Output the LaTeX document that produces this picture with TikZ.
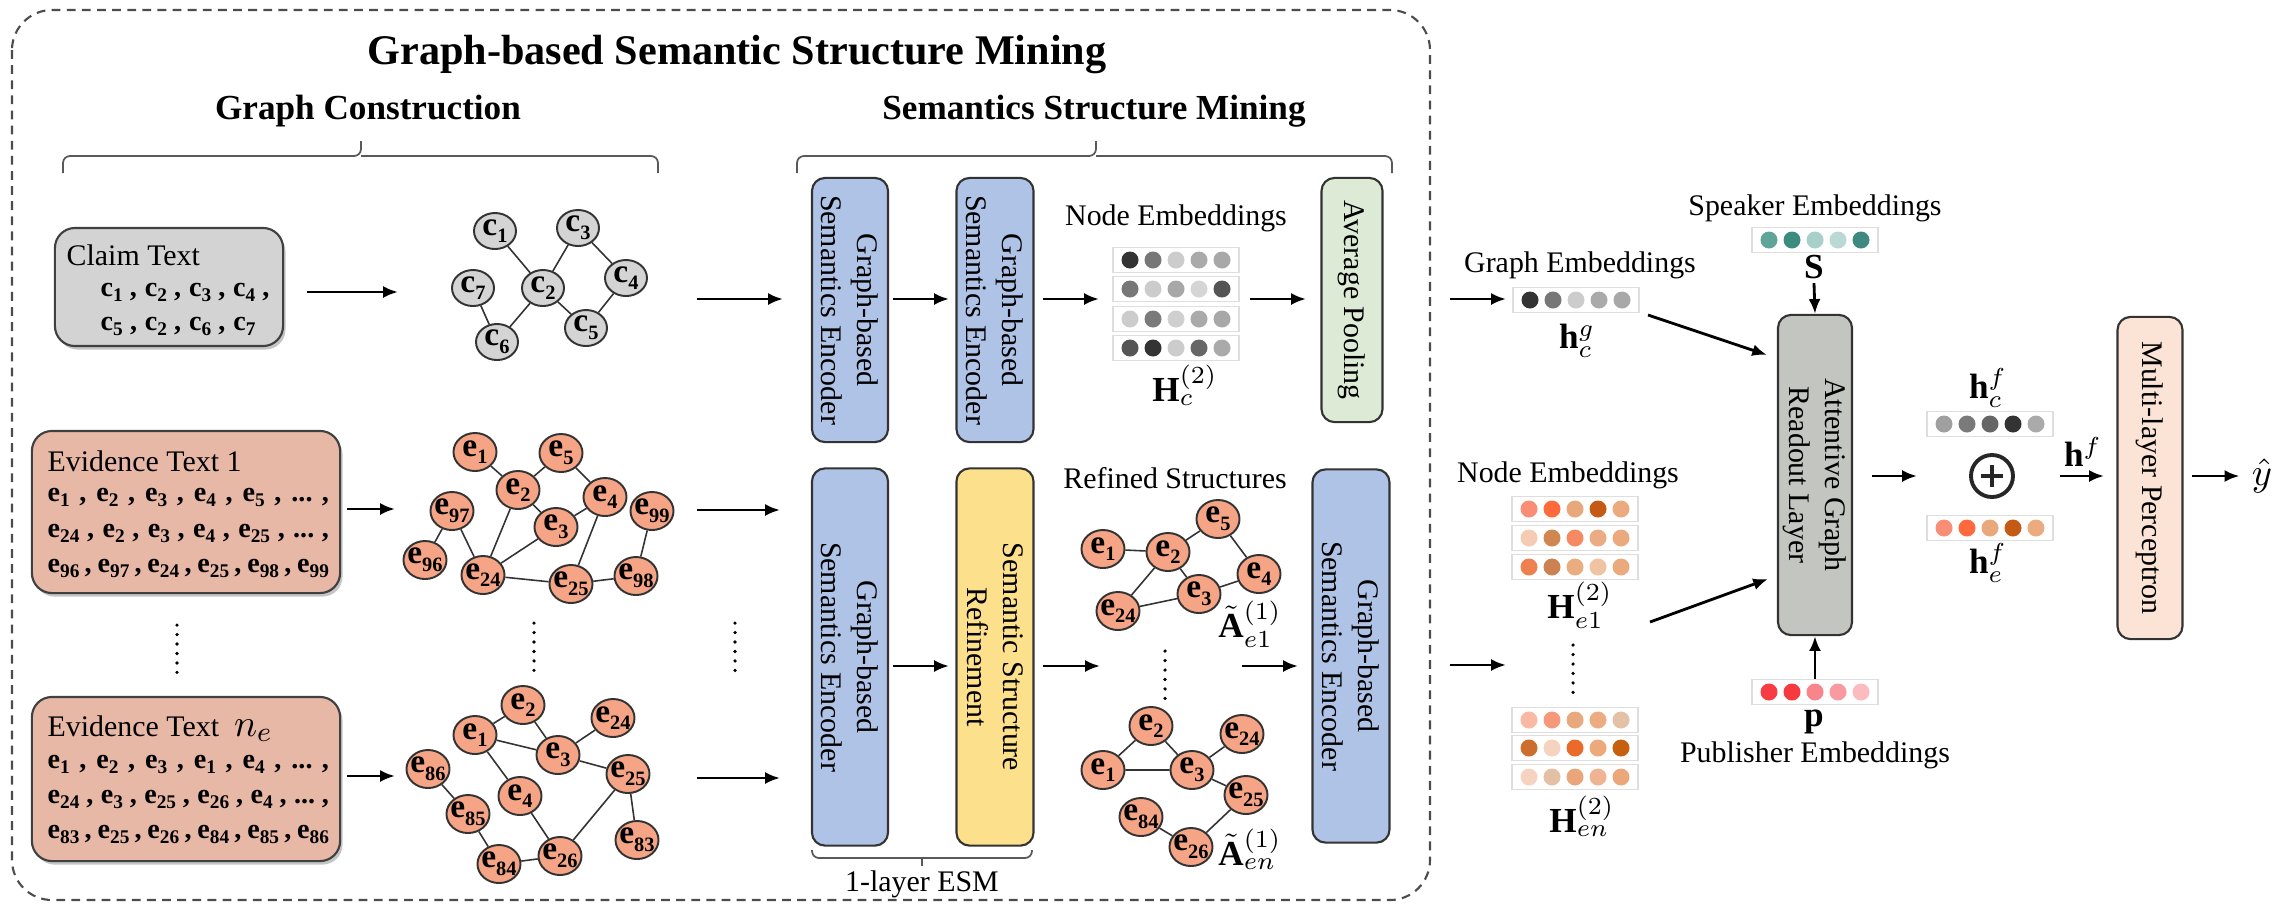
\documentclass[tikz,border=0pt]{standalone}
\usepackage{fontspec}
\setmainfont{Liberation Serif}
\usepackage{amsmath}
\usetikzlibrary{arrows.meta,shapes.geometric,shadows,calc}

\definecolor{cfill}{HTML}{D4D4D4}
\definecolor{cboxf}{HTML}{D3D3D3}
\definecolor{efill}{HTML}{F5A585}
\definecolor{eboxf}{HTML}{E8B8A7}
\definecolor{encb}{HTML}{AFC3E7}
\definecolor{refy}{HTML}{FDE08C}
\definecolor{avgg}{HTML}{DDEBD6}
\definecolor{readg}{HTML}{C3C5C0}
\definecolor{mlpf}{HTML}{FBE3D5}

\newcommand{\sbs}[1]{\raisebox{-0.5ex}{\fontsize{5.8}{5.8}\selectfont\bfseries #1}}
\newcommand{\gl}[2]{#1\sbs{#2}}
\newcommand{\bl}[2]{#1\raisebox{-0.45ex}{\fontsize{5.5}{5.5}\selectfont\bfseries #2}}
\newcommand{\cs}{\hskip 1.2pt plus 1fil,\hskip 1.4pt plus 1fil}

\newcommand{\embrow}[3]{%
  \node[vbox] (#1) at (#2) {};
  \foreach \hx [count=\i] in {#3}{%
    \edef\tmpdef{\noexpand\definecolor{tmpc}{HTML}{\hx}}\tmpdef
    \fill[tmpc] ($(#1.center)+({(\i-3)*23},0)$) circle[radius=0.085cm];
  }%
}

\tikzset{
  every node/.style={font=\fontsize{8.5}{10.2}\selectfont},
  arr/.style={draw=black, line width=0.8pt, -{Latex[length=4.2pt,width=3.4pt]}},
  gedge/.style={draw=black!80, line width=0.45pt},
  cn/.style={ellipse, draw=black!80, line width=0.55pt, fill=cfill, minimum width=0.42cm, minimum height=0.36cm, inner sep=-1.8pt, font=\fontsize{9.5}{10}\selectfont\bfseries},
  en/.style={cn, fill=efill, minimum width=0.43cm, minimum height=0.38cm},
  txtbox/.style={draw=black!75, line width=0.6pt, rounded corners=0.2cm, drop shadow={shadow xshift=0.7pt, shadow yshift=-1pt, fill=black!45}},
  vbar/.style={draw=black!80, line width=0.6pt, rounded corners=0.13cm, inner sep=0pt},
  vbox/.style={draw=black!13, line width=0.5pt, fill=white, minimum width=1.26cm, minimum height=0.25cm, inner sep=0pt},
  brace/.style={draw=black!65, line width=0.5pt, rounded corners=2pt},
  dots/.style={draw=black, line width=1pt, line cap=round, dash pattern=on 0pt off 2.7pt},
  outer/.style={draw=black!70, line width=0.6pt, dash pattern=on 2.5pt off 1.8pt, rounded corners=0.4cm},
  boxline/.style={anchor=base west, inner sep=0pt, font=\fontsize{8}{9}\selectfont\bfseries},
  boxhead/.style={anchor=base west, inner sep=0pt},
  rtext/.style={rotate=-90, align=center},
  mlab/.style={font=\fontsize{10}{11}\selectfont, inner sep=1pt},
}

\begin{document}
\begin{tikzpicture}[x=0.01cm,y=-0.01cm]
\useasboundingbox (0,0) rectangle (2274,908);
\fill[white] (0,0) rectangle (2274,908);
\draw[outer] (12,10) rectangle (1430,900);

% titles
\node[font=\fontsize{12}{14}\selectfont\bfseries] (title) at (737,55) {Graph-based Semantic Structure Mining};
\node[font=\fontsize{10}{12}\selectfont\bfseries] (gct) at (368,111) {Graph Construction};
\node[font=\fontsize{10}{12}\selectfont\bfseries] (ssmt) at (1094,111) {Semantics Structure Mining};
\draw[brace] (63,173) -- (63,156) -- (361,156) -- (361,141);
\draw[brace] (361,156) -- (658,156) -- (658,173);
\draw[brace] (797,173) -- (797,156) -- (1096,156) -- (1096,141);
\draw[brace] (1096,156) -- (1392,156) -- (1392,173);

% text boxes
\node[txtbox, fill=cboxf, minimum width=2.28cm, minimum height=1.18cm] (claim) at (169,287) {};
\node[boxhead] (ct0) at (66,265) {Claim Text};
\node[boxline] (ct1) at (100,296) {\makebox[48pt][s]{\bl{c}{1}\cs\bl{c}{2}\cs\bl{c}{3}\cs\bl{c}{4}\hskip 1.2pt plus 1fil,}};
\node[boxline] (ct2) at (100,330) {\makebox[44pt][s]{\bl{c}{5}\cs\bl{c}{2}\cs\bl{c}{6}\cs\bl{c}{7}}};

\node[txtbox, fill=eboxf, minimum width=3.08cm, minimum height=1.62cm] (ev1) at (186,512) {};
\node[boxhead] (e1t0) at (47,471) {Evidence Text 1};
\node[boxline] (e1t1) at (47,501) {\makebox[80pt][s]{\bl{e}{1}\cs\bl{e}{2}\cs\bl{e}{3}\cs\bl{e}{4}\cs\bl{e}{5}\cs...\hskip 1.2pt plus 1fil,}};
\node[boxline] (e1t2) at (47,537) {\makebox[80pt][s]{\bl{e}{24}\cs\bl{e}{2}\cs\bl{e}{3}\cs\bl{e}{4}\cs\bl{e}{25}\cs...\hskip 1.2pt plus 1fil,}};
\node[boxline] (e1t3) at (47,572) {\makebox[80pt][s]{\bl{e}{96}\cs\bl{e}{97}\cs\bl{e}{24}\cs\bl{e}{25}\cs\bl{e}{98}\cs\bl{e}{99}}};

\node[txtbox, fill=eboxf, minimum width=3.08cm, minimum height=1.64cm] (evn) at (186,779) {};
\node[boxhead] (ent0) at (47,736) {Evidence Text\ \ {\fontsize{11}{12}\selectfont$n_e$}};
\node[boxline] (ent1) at (47,768) {\makebox[80pt][s]{\bl{e}{1}\cs\bl{e}{2}\cs\bl{e}{3}\cs\bl{e}{1}\cs\bl{e}{4}\cs...\hskip 1.2pt plus 1fil,}};
\node[boxline] (ent2) at (47,803) {\makebox[80pt][s]{\bl{e}{24}\cs\bl{e}{3}\cs\bl{e}{25}\cs\bl{e}{26}\cs\bl{e}{4}\cs...\hskip 1.2pt plus 1fil,}};
\node[boxline] (ent3) at (47,838) {\makebox[80pt][s]{\bl{e}{83}\cs\bl{e}{25}\cs\bl{e}{26}\cs\bl{e}{84}\cs\bl{e}{85}\cs\bl{e}{86}}};

% claim graph
\node[cn] (c1) at (495,231) {\gl{c}{1}};
\node[cn] (c3) at (578,228) {\gl{c}{3}};
\node[cn] (c7) at (473,288) {\gl{c}{7}};
\node[cn] (c2) at (543,288) {\gl{c}{2}};
\node[cn] (c4) at (626,278) {\gl{c}{4}};
\node[cn] (c5) at (586,328) {\gl{c}{5}};
\node[cn] (c6) at (497,342) {\gl{c}{6}};
\draw[gedge] (c1)--(c2) (c2)--(c3) (c3)--(c4) (c4)--(c5) (c5)--(c2) (c2)--(c6) (c6)--(c7);

% evidence 1 graph
\node[en] (a1) at (475,452) {\gl{e}{1}};
\node[en] (a5) at (561,453) {\gl{e}{5}};
\node[en] (a2) at (518,490) {\gl{e}{2}};
\node[en] (a97) at (452,511) {\gl{e}{97}};
\node[en] (a4) at (605,497) {\gl{e}{4}};
\node[en] (a99) at (652,511) {\gl{e}{99}};
\node[en] (a3) at (556,527) {\gl{e}{3}};
\node[en] (a96) at (425,560) {\gl{e}{96}};
\node[en] (a24) at (483,575) {\gl{e}{24}};
\node[en] (a25) at (571,584) {\gl{e}{25}};
\node[en] (a98) at (636,576) {\gl{e}{98}};
\draw[gedge] (a1)--(a2) (a2)--(a5) (a5)--(a4) (a2)--(a3) (a3)--(a4) (a97)--(a96) (a97)--(a24) (a2)--(a24) (a24)--(a3) (a24)--(a25) (a4)--(a25) (a25)--(a98) (a99)--(a98);

% evidence n graph
\node[en] (b2) at (523,705) {\gl{e}{2}};
\node[en] (b24) at (613,718) {\gl{e}{24}};
\node[en] (b1) at (475,735) {\gl{e}{1}};
\node[en] (b3) at (558,755) {\gl{e}{3}};
\node[en] (b86) at (428,769) {\gl{e}{86}};
\node[en] (b25) at (628,774) {\gl{e}{25}};
\node[en] (b4) at (520,796) {\gl{e}{4}};
\node[en] (b85) at (468,814) {\gl{e}{85}};
\node[en] (b83) at (637,840) {\gl{e}{83}};
\node[en] (b84) at (499,864) {\gl{e}{84}};
\node[en] (b26) at (560,856) {\gl{e}{26}};
\draw[gedge] (b1)--(b2) (b2)--(b3) (b1)--(b3) (b3)--(b24) (b3)--(b25) (b1)--(b4) (b4)--(b26) (b26)--(b25) (b25)--(b83) (b86)--(b85) (b85)--(b84) (b84)--(b26);

% dots left
\draw[dots] (177,625) -- (177,676);
\draw[dots] (534,623) -- (534,672);
\draw[dots] (735,623) -- (735,672);

% encoders top
\node[vbar, fill=encb, minimum width=0.76cm, minimum height=2.64cm] (enc1) at (850,310) {};
\node[rtext] (enc1t) at (enc1.center) {Graph-based\\Semantics Encoder};
\node[vbar, fill=encb, minimum width=0.77cm, minimum height=2.64cm] (enc2) at (995,310) {};
\node[rtext] (enc2t) at (enc2.center) {Graph-based\\Semantics Encoder};
\node[vbar, fill=avgg, minimum width=0.61cm, minimum height=2.44cm] (avg) at (1352,300) {};
\node[rtext] (avgt) at (avg.center) {Average Pooling};

\node (nelab) at (1176,218) {Node Embeddings};
\embrow{hc1}{1176,260}{333333,777777,CCCCCC,AAAAAA,A8A8A8}
\embrow{hc2}{1176,289}{777777,CCCCCC,A8A8A8,D5D5D5,555555}
\embrow{hc3}{1176,319}{CCCCCC,7A7A7A,CFCFCF,AAAAAA,A8A8A8}
\embrow{hc4}{1176,348}{555555,333333,CCCCCC,666666,AAAAAA}
\node[mlab] (hclab) at (1185,385) {$\mathbf{H}_c^{(2)}$};

% bottom row
\node[vbar, fill=encb, minimum width=0.76cm, minimum height=3.77cm] (benc) at (850,657) {};
\node[rtext] (benct) at (benc.center) {Graph-based\\Semantics Encoder};
\node[vbar, fill=refy, minimum width=0.77cm, minimum height=3.77cm] (ref) at (995,657) {};
\node[rtext] (reft) at (ref.center) {Semantic Structure\\Refinement};
\node[vbar, fill=encb, minimum width=0.77cm, minimum height=3.73cm] (renc) at (1351,656) {};
\node[rtext] (renct) at (renc.center) {Graph-based\\Semantics Encoder};

\node (rslab) at (1175,478) {Refined Structures};
\node[en] (r5) at (1218,519) {\gl{e}{5}};
\node[en] (r1) at (1103,549) {\gl{e}{1}};
\node[en] (r2) at (1168,552) {\gl{e}{2}};
\node[en] (r4) at (1259,574) {\gl{e}{4}};
\node[en] (r3) at (1199,594) {\gl{e}{3}};
\node[en] (r24) at (1118,611) {\gl{e}{24}};
\draw[gedge] (r1)--(r2) (r2)--(r5) (r5)--(r4) (r2)--(r3) (r2)--(r24) (r24)--(r3) (r3)--(r4);
\node[mlab] (ae1) at (1250,624) {$\tilde{\mathbf{A}}_{e1}^{(1)}$};
\draw[dots] (1165,651) -- (1165,700);
\node[en] (q2) at (1151,726) {\gl{e}{2}};
\node[en] (q24) at (1242,734) {\gl{e}{24}};
\node[en] (q1) at (1103,770) {\gl{e}{1}};
\node[en] (q3) at (1192,770) {\gl{e}{3}};
\node[en] (q25) at (1246,795) {\gl{e}{25}};
\node[en] (q84) at (1141,817) {\gl{e}{84}};
\node[en] (q26) at (1191,847) {\gl{e}{26}};
\draw[gedge] (q1)--(q2) (q2)--(q3) (q1)--(q3) (q3)--(q24) (q3)--(q25) (q25)--(q26) (q84)--(q26);
\node[mlab] (aen) at (1250,849) {$\tilde{\mathbf{A}}_{en}^{(1)}$};

\draw[brace] (812,850) -- (812,858) -- (1032,858) -- (1032,850);
\draw[brace] (922,858) -- (922,866);
\node (esm) at (922,884) {1-layer ESM};

% arrows left part
\coordinate (l1a) at (307,292); \coordinate (l1b) at (398,292);
\coordinate (l2a) at (347,509); \coordinate (l2b) at (395,509);
\coordinate (l3a) at (347,776); \coordinate (l3b) at (395,776);
\draw[arr] (l1a) -- (l1b);
\draw[arr] (l2a) -- (l2b);
\draw[arr] (l3a) -- (l3b);
\coordinate (g1a) at (697,299); \coordinate (g1b) at (783,299);
\coordinate (g2a) at (697,510); \coordinate (g2b) at (780,510);
\coordinate (g3a) at (697,778); \coordinate (g3b) at (780,778);
\draw[arr] (g1a) -- (g1b);
\draw[arr] (g2a) -- (g2b);
\draw[arr] (g3a) -- (g3b);
\coordinate (t1a) at (893,299); \coordinate (t1b) at (949,299);
\coordinate (t2a) at (1043,299); \coordinate (t2b) at (1099,299);
\coordinate (t3a) at (1250,299); \coordinate (t3b) at (1306,299);
\draw[arr] (t1a) -- (t1b);
\draw[arr] (t2a) -- (t2b);
\draw[arr] (t3a) -- (t3b);
\coordinate (m1a) at (893,666); \coordinate (m1b) at (949,666);
\coordinate (m2a) at (1043,666); \coordinate (m2b) at (1100,666);
\coordinate (m3a) at (1242,666); \coordinate (m3b) at (1298,666);
\draw[arr] (m1a) -- (m1b);
\draw[arr] (m2a) -- (m2b);
\draw[arr] (m3a) -- (m3b);

% right part
\coordinate (x1a) at (1450,299); \coordinate (x1b) at (1506,299);
\coordinate (x2a) at (1450,665); \coordinate (x2b) at (1506,665);
\draw[arr] (x1a) -- (x1b);
\draw[arr] (x2a) -- (x2b);

\node (gelab) at (1580,265) {Graph Embeddings};
\embrow{hg}{1576,300}{333333,777777,CCCCCC,AAAAAA,A8A8A8}
\node[mlab] (hglab) at (1577,341) {$\mathbf{h}_c^g$};

\node (splab) at (1815,208) {Speaker Embeddings};
\embrow{spk}{1815,240}{5FA59A,3D8C80,A8CFC9,BBD9D4,3F8A80}
\node[mlab] (slab) at (1814,267) {$\mathbf{S}$};

\node (nelab2) at (1568,475) {Node Embeddings};
\embrow{he1}{1575,509}{F98E76,FF6A3D,E9A87C,C45A14,ECAB7F}
\embrow{he2}{1575,538}{F5CBB3,CF8650,F58A62,EBAC85,EAAA7D}
\embrow{he3}{1575,567}{EE7F4F,CC8250,E9AD80,F0C3A5,EBA97E}
\node[mlab] (he1lab) at (1580,605) {$\mathbf{H}_{e1}^{(2)}$};
\draw[dots] (1573,645) -- (1573,694);
\embrow{hn1}{1575,720}{F9B9A2,F7987A,EAA87D,ECAB80,E4C0A6}
\embrow{hn2}{1575,748}{CC6F2E,F5D3BF,EA6A2C,EDA87C,C6600E}
\embrow{hn3}{1575,777}{F6D2C0,E3BFA5,EBA57A,F0B493,EBA77A}
\node[mlab] (henlab) at (1582,816) {$\mathbf{H}_{en}^{(2)}$};

\embrow{pub}{1815,692}{F83C44,F73A40,F9858C,F99AA0,FBBCC0}
\node[mlab] (plab) at (1814,722) {$\mathbf{p}$};
\node (pelab) at (1815,755) {Publisher Embeddings};

\node[vbar, fill=readg, minimum width=0.74cm, minimum height=3.2cm] (read) at (1815,475) {};
\node[rtext] (readt) at (read.center) {Attentive Graph\\Readout Layer};

\coordinate (r1a) at (1648,315); \coordinate (r1b) at (1767,355);
\coordinate (r2a) at (1650,622); \coordinate (r2b) at (1768,579);
\draw[arr] (r1a) -- (r1b);
\draw[arr] (r2a) -- (r2b);
\draw[arr] (slab.south) -- (read.north);
\draw[arr] (pub.north) -- (read.south);

\embrow{hcf}{1990,424}{A0A0A0,7A7A7A,666666,333333,AAAAAA}
\node[mlab] (hcflab) at (1988,388) {$\mathbf{h}_c^f$};
\node[circle, draw=black!85, line width=1.1pt, minimum size=0.42cm, inner sep=0pt] (sum) at (1992,476) {};
\draw[line width=1.1pt, draw=black!85] ($(sum.center)+(-11,0)$) -- ($(sum.center)+(11,0)$);
\draw[line width=1.1pt, draw=black!85] ($(sum.center)+(0,-11)$) -- ($(sum.center)+(0,11)$);
\embrow{hef}{1990,528}{F98E76,FF6A3D,E9A87C,C45A14,ECAB7F}
\node[mlab] (heflab) at (1988,563) {$\mathbf{h}_e^f$};

\node[vbar, fill=mlpf, minimum width=0.65cm, minimum height=3.22cm] (mlp) at (2150,478) {};
\node[rtext] (mlpt) at (mlp.center) {Multi-layer Perceptron};

\coordinate (s1a) at (1872,476); \coordinate (s1b) at (1917,476);
\draw[arr] (s1a) -- (s1b);
\coordinate (s2a) at (2060,476); \coordinate (s2b) at (2104,476);
\draw[arr] (s2a) -- (s2b);
\node[mlab] (hflab) at (2083,452) {$\mathbf{h}^f$};
\node[font=\fontsize{11}{12}\selectfont] (yhat) at (2262,476) {$\hat{y}$};
\coordinate (s3a) at (2192,476);
\draw[arr] (s3a) -- (yhat.west);
\end{tikzpicture}
\end{document}
